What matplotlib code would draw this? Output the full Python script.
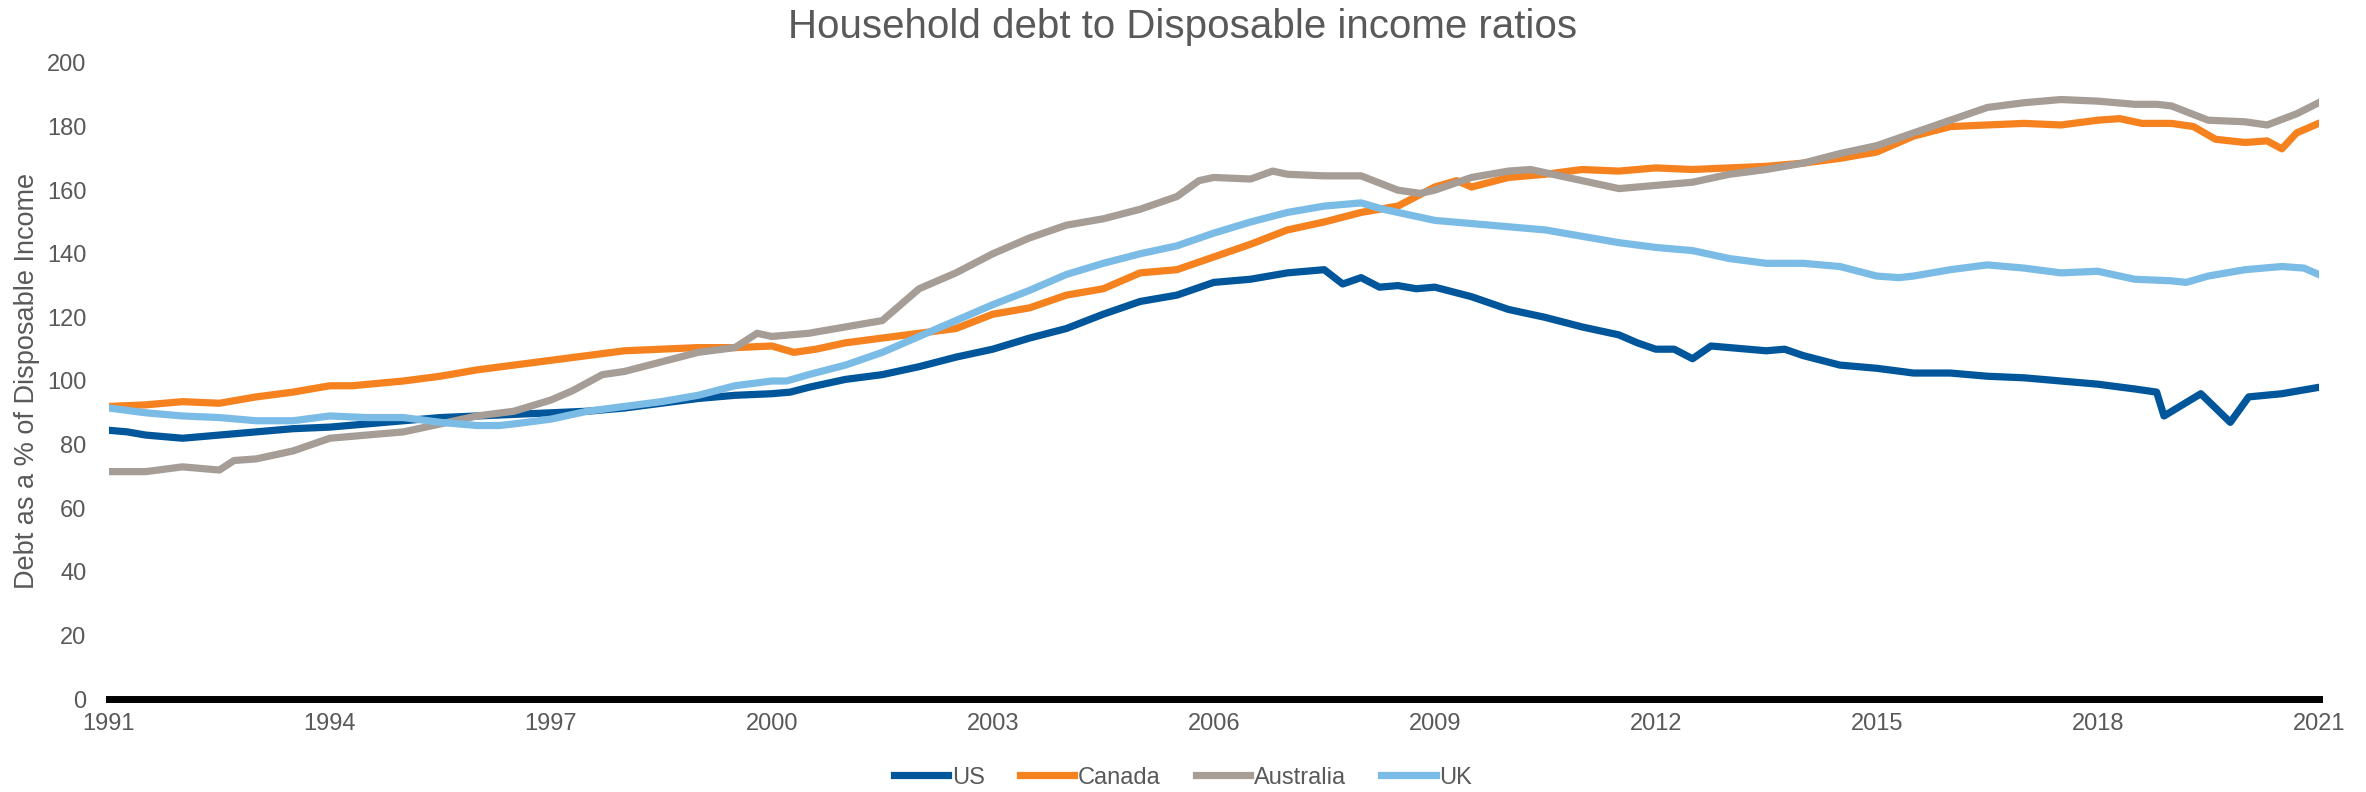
import matplotlib.pyplot as plt

# data (x = position in years along the axis)
us_x = [1991.0, 1991.25, 1991.5, 1991.75, 1992.0, 1992.25, 1992.5, 1993.0, 1993.5, 1994.0,
        1994.5, 1995.0, 1995.5, 1996.0, 1996.5, 1997.0, 1997.5, 1998.0, 1998.5, 1999.0,
        1999.5, 2000.0, 2000.25, 2000.5, 2001.0, 2001.5, 2002.0, 2002.5, 2003.0, 2003.5,
        2004.0, 2004.5, 2005.0, 2005.5, 2006.0, 2006.5, 2007.0, 2007.5, 2007.75, 2008.0,
        2008.25, 2008.5, 2008.75, 2009.0, 2009.5, 2010.0, 2010.5, 2011.0, 2011.5, 2011.75,
        2012.0, 2012.25, 2012.5, 2012.75, 2013.0, 2013.5, 2013.75, 2014.0, 2014.5, 2015.0,
        2015.5, 2016.0, 2016.5, 2017.0, 2017.5, 2018.0, 2018.5, 2018.8, 2018.9, 2019.4,
        2019.8, 2020.05, 2020.5, 2021.0]
us = [84.5, 84, 83, 82.5, 82, 82.5, 83, 84, 85, 85.5,
      86.5, 87.5, 88.5, 89, 89.5, 90, 90.5, 91.5, 93, 94.5,
      95.5, 96, 96.5, 98, 100.5, 102, 104.5, 107.5, 110, 113.5,
      116.5, 121, 125, 127, 131, 132, 134, 135, 130.5, 132.5,
      129.5, 130, 129, 129.5, 126.5, 122.5, 120, 117, 114.5, 112,
      110, 110, 107, 111, 110.5, 109.5, 110, 108, 105, 104,
      102.5, 102.5, 101.5, 101, 100, 99, 97.5, 96.5, 89, 96,
      87, 95, 96, 98]

canada_x = [1991.0, 1991.5, 1992.0, 1992.5, 1993.0, 1993.5, 1994.0, 1994.3, 1995.0, 1995.5,
            1996.0, 1996.5, 1997.0, 1997.5, 1998.0, 1998.5, 1999.0, 1999.5, 2000.0, 2000.3,
            2000.6, 2001.0, 2001.5, 2002.0, 2002.5, 2003.0, 2003.5, 2004.0, 2004.5, 2005.0,
            2005.5, 2006.0, 2006.5, 2007.0, 2007.5, 2008.0, 2008.5, 2009.0, 2009.3, 2009.5,
            2010.0, 2010.5, 2011.0, 2011.5, 2012.0, 2012.5, 2013.0, 2013.5, 2014.0, 2014.5,
            2015.0, 2015.5, 2016.0, 2016.5, 2017.0, 2017.5, 2018.0, 2018.3, 2018.6, 2019.0,
            2019.3, 2019.6, 2020.0, 2020.3, 2020.5, 2020.7, 2021.0]
canada = [92, 92.5, 93.5, 93, 95, 96.5, 98.5, 98.5, 100, 101.5,
          103.5, 105, 106.5, 108, 109.5, 110, 110.5, 110.5, 111, 109,
          110, 112, 113.5, 115, 116.5, 121, 123, 127, 129, 134,
          135, 139, 143, 147.5, 150, 153, 155, 161, 163, 161,
          164, 165, 166.5, 166, 167, 166.5, 167, 167.5, 168.5, 170,
          172, 177, 180, 180.5, 181, 180.5, 182, 182.5, 181, 181,
          180, 176, 175, 175.5, 173, 178, 181]

australia_x = [1991.0, 1991.5, 1992.0, 1992.5, 1992.7, 1993.0, 1993.5, 1994.0, 1994.5, 1995.0,
               1995.5, 1996.0, 1996.5, 1997.0, 1997.3, 1997.7, 1998.0, 1998.5, 1999.0, 1999.5,
               1999.8, 2000.0, 2000.5, 2001.0, 2001.5, 2002.0, 2002.5, 2003.0, 2003.5, 2004.0,
               2004.5, 2005.0, 2005.5, 2005.8, 2006.0, 2006.5, 2006.8, 2007.0, 2007.5, 2008.0,
               2008.5, 2008.8, 2009.0, 2009.5, 2010.0, 2010.3, 2010.5, 2011.0, 2011.5, 2012.0,
               2012.5, 2013.0, 2013.5, 2014.0, 2014.5, 2015.0, 2015.5, 2016.0, 2016.5, 2017.0,
               2017.5, 2018.0, 2018.5, 2018.8, 2019.0, 2019.5, 2020.0, 2020.3, 2020.7, 2021.0]
australia = [71.5, 71.5, 73, 72, 75, 75.5, 78, 82, 83, 84,
             86.5, 89, 90.5, 94, 97, 102, 103, 106, 109, 110.5,
             115, 114, 115, 117, 119, 129, 134, 140, 145, 149,
             151, 154, 158, 163, 164, 163.5, 166, 165, 164.5, 164.5,
             160, 159, 160, 164, 166, 166.5, 165.5, 163, 160.5, 161.5,
             162.5, 165, 166.5, 168.5, 171.5, 174, 178, 182, 186, 187.5,
             188.5, 188, 187, 187, 186.5, 182, 181.5, 180.5, 184, 187.5]

uk_x = [1991.0, 1991.5, 1992.0, 1992.5, 1993.0, 1993.5, 1994.0, 1994.5, 1995.0, 1995.5,
        1996.0, 1996.3, 1996.5, 1997.0, 1997.5, 1998.0, 1998.5, 1999.0, 1999.5, 2000.0,
        2000.2, 2000.5, 2001.0, 2001.5, 2002.0, 2002.5, 2003.0, 2003.5, 2004.0, 2004.5,
        2005.0, 2005.5, 2006.0, 2006.5, 2007.0, 2007.5, 2008.0, 2008.3, 2008.5, 2009.0,
        2009.5, 2010.0, 2010.5, 2011.0, 2011.5, 2012.0, 2012.5, 2013.0, 2013.5, 2014.0,
        2014.5, 2015.0, 2015.3, 2015.5, 2016.0, 2016.5, 2017.0, 2017.5, 2018.0, 2018.5,
        2019.0, 2019.2, 2019.5, 2020.0, 2020.5, 2020.8, 2021.0]
uk = [91.5, 90, 89, 88.5, 87.5, 87.5, 89, 88.5, 88.5, 87,
      86, 86, 86.5, 88, 90.5, 92, 93.5, 95.5, 98.5, 100,
      100, 102, 105, 109, 114, 119, 124, 128.5, 133.5, 137,
      140, 142.5, 146.5, 150, 153, 155, 156, 154, 153, 150.5,
      149.5, 148.5, 147.5, 145.5, 143.5, 142, 141, 138.5, 137, 137,
      136, 133, 132.5, 133, 135, 136.5, 135.5, 134, 134.5, 132,
      131.5, 131, 133, 135, 136, 135.5, 133.5]

year_ticks = [1991, 1994, 1997, 2000, 2003, 2006, 2009, 2012, 2015, 2018, 2021]
value_ticks = [0, 20, 40, 60, 80, 100, 120, 140, 160, 180, 200]

text_grey = '#595959'
fam = ['Liberation Sans', 'DejaVu Sans']

fig = plt.figure(figsize=(23.66, 7.92), dpi=100)
ax = fig.add_axes([0.046, 0.1174, 0.934, 0.8031])

lw = 5.2
ax.plot(us_x, us, color='#00569A', lw=lw, label='US')
ax.plot(canada_x, canada, color='#F5821F', lw=lw, label='Canada')
ax.plot(australia_x, australia, color='#A59D96', lw=lw, label='Australia')
ax.plot(uk_x, uk, color='#7BBCE6', lw=lw, label='UK')

ax.set_xlim(1991, 2021)
ax.set_ylim(0, 200)
ax.set_xticks(year_ticks)
ax.set_yticks(value_ticks)
ax.tick_params(length=0, labelsize=17, labelcolor=text_grey)
ax.tick_params(axis='x', pad=10)
ax.tick_params(axis='y', pad=16)
for lab in ax.get_xticklabels() + ax.get_yticklabels():
    lab.set_family(fam)

for side in ['top', 'right', 'left']:
    ax.spines[side].set_visible(False)
ax.spines['bottom'].set_linewidth(5)
ax.spines['bottom'].set_color('black')

ax.set_ylabel('Debt as a % of Disposable Income', fontsize=19.5, color=text_grey, family=fam)
ax.yaxis.set_label_coords(-0.031, 0.5)

fig.suptitle('Household debt to Disposable income ratios', fontsize=29, color=text_grey,
             family=fam, y=0.966, va='center')

leg = fig.legend(loc='center', bbox_to_anchor=(0.5, 0.018), ncol=4, frameon=False,
                 handlelength=2.3, handletextpad=0.15, columnspacing=1.5,
                 prop={'family': fam, 'size': 17})
for t in leg.get_texts():
    t.set_color(text_grey)

fig.savefig('out.png', dpi=100)
